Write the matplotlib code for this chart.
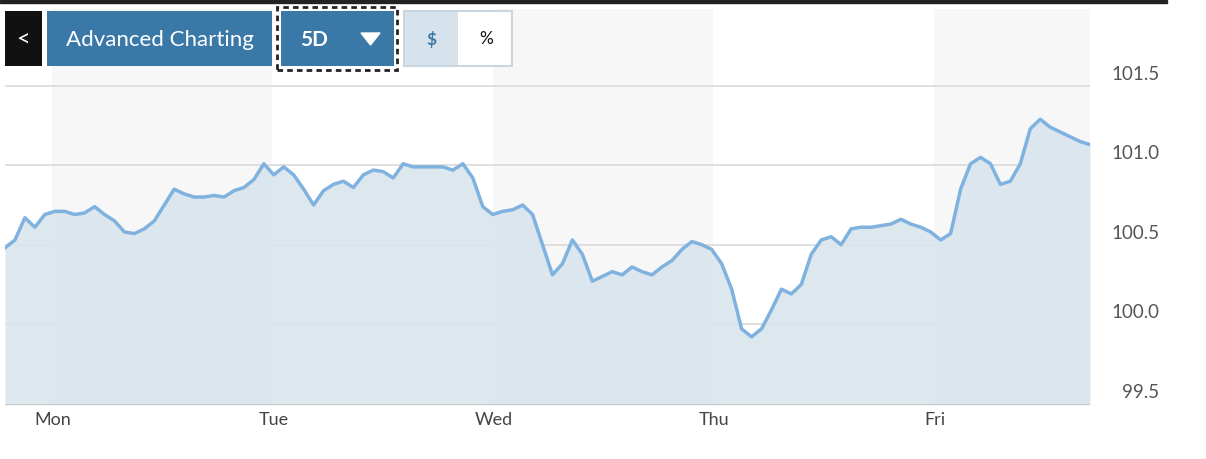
import numpy as np
import matplotlib
matplotlib.use("Agg")
import matplotlib.pyplot as plt
from matplotlib.patches import Rectangle, Polygon

days = ["Mon", "Tue", "Wed", "Thu", "Fri"]
yticks = [99.5, 100.0, 100.5, 101.0, 101.5]
prices = [100.48, 100.53, 100.67, 100.61, 100.69, 100.71, 100.71, 100.69, 100.70, 100.74,
          100.69, 100.65, 100.58, 100.57, 100.60, 100.65, 100.75, 100.85, 100.82, 100.80,
          100.80, 100.81, 100.80, 100.84, 100.86, 100.91, 101.01, 100.94, 100.99, 100.94,
          100.85, 100.75, 100.84, 100.88, 100.90, 100.86, 100.94, 100.97, 100.96, 100.92,
          101.01, 100.99, 100.99, 100.99, 100.99, 100.97, 101.01, 100.92, 100.74, 100.69,
          100.71, 100.72, 100.75, 100.69, 100.50, 100.31, 100.38, 100.53, 100.44, 100.27,
          100.30, 100.33, 100.31, 100.36, 100.33, 100.31, 100.36, 100.40, 100.47, 100.52,
          100.50, 100.47, 100.38, 100.22, 99.97, 99.92, 99.97, 100.09, 100.22, 100.19,
          100.25, 100.44, 100.53, 100.55, 100.50, 100.60, 100.61, 100.61, 100.62, 100.63,
          100.66, 100.63, 100.61, 100.58, 100.53, 100.57, 100.85, 101.01, 101.05, 101.01,
          100.88, 100.90, 101.01, 101.23, 101.29, 101.24, 101.21, 101.18, 101.15, 101.13]

W, H = 1206, 460
fig = plt.figure(figsize=(W/100, H/100), dpi=100)
plt.rcParams['font.family'] = ['Lato', 'DejaVu Sans']

def px(x0, y0, x1, y1):
    return [x0/W, 1-y1/H, (x1-x0)/W, (y1-y0)/H]

ax = fig.add_axes(px(5, 10, 1090, 406))
x0d, x1d = (5-53)/220.5, (1090-53)/220.5
t = np.linspace(x0d, x1d, len(prices))
ymin = 100.0 - (406-325)/159
ymax = 101.5 + (87-10)/159
ax.set_xlim(x0d, x1d)
ax.set_ylim(ymin, ymax)
for s in [0, 2, 4]:
    ax.axvspan(s-0.005, s+0.993, color='#f7f7f7', lw=0, zorder=0)
for v in yticks[1:]:
    ax.axhline(v, color='#dadada', lw=1.2, zorder=1)
ax.fill_between(t, prices, ymin, color='#dae5ed', alpha=0.9, lw=0, zorder=2)
ax.plot(t, prices, color='#80b2e0', lw=2.5, zorder=3)
for s in ax.spines.values():
    s.set_visible(False)
ax.axhline(ymin, color='#cccccc', lw=1.5, zorder=4)
ax.set_xticks([])
ax.set_yticks([])
for i, d in enumerate(days):
    ax.annotate(d, (i, ymin), xytext=(0, -10), textcoords='offset points',
                ha='center', va='center', fontsize=13, color='#444444')
for v in yticks:
    ax.annotate(f"{v:.1f}", (x1d, v), xytext=(50, 9), textcoords='offset points',
                ha='right', va='center', fontsize=13.5, color='#555555', annotation_clip=False)

# top bar
fig.patches.append(Rectangle((0, 1-4/H), 1167/W, 3/H, transform=fig.transFigure, color='#222222'))
def box(x0, y0, x1, y1, fc, ec='none', ls='-', lw=0):
    fig.patches.append(Rectangle((x0/W, 1-y1/H), (x1-x0)/W, (y1-y0)/H, transform=fig.transFigure,
                                 facecolor=fc, edgecolor=ec, linestyle=ls, linewidth=lw))
box(5, 12, 42, 67, '#111111')
fig.text(23/W, 1-40/H, '<', color='white', fontsize=17, ha='center', va='center')
box(47, 12, 272, 67, '#3a78a8')
fig.text(160/W, 1-40/H, 'Advanced Charting', color='white', fontsize=16, ha='center', va='center')
box(277, 8, 397, 71, 'none', ec='#222222', ls=(0, (2, 1.5)), lw=2)
box(281, 12, 394, 67, '#3a78a8')
fig.text(314/W, 1-40/H, '5D', color='white', fontsize=15, ha='center', va='center', fontweight='bold')
fig.patches.append(Polygon([(361/W, 1-34/H), (380/W, 1-34/H), (370.5/W, 1-46/H)],
                           closed=True, transform=fig.transFigure, color='white'))
box(404, 12, 512, 67, 'white', ec='#c8d6e2', lw=1.5)
box(405, 13, 458, 66, '#d6e2ec')
fig.text(431/W, 1-39/H, '$', color='#3a78a8', fontsize=12.5, ha='center', va='center', fontweight='bold')
fig.text(486/W, 1-39/H, '%', color='#111111', fontsize=12.5, ha='center', va='center')

fig.savefig('out.png', dpi=100)
